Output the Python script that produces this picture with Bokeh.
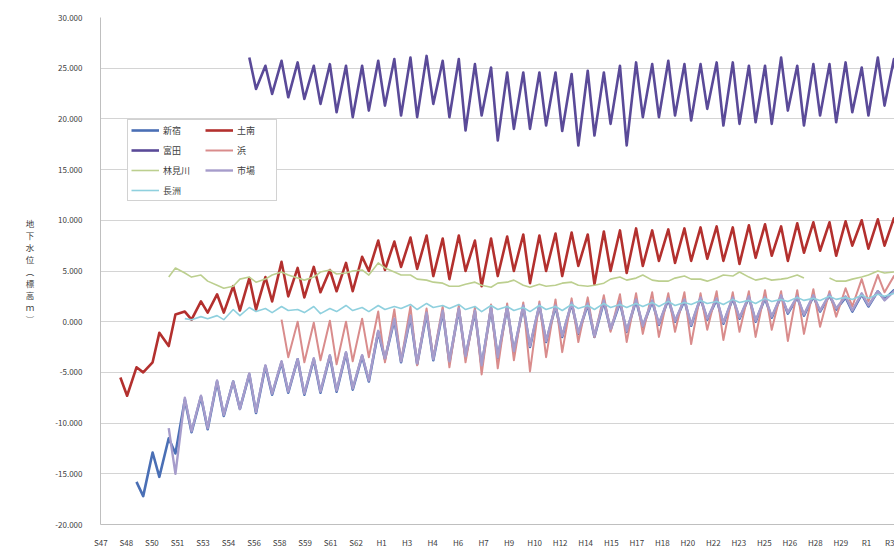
from bokeh.plotting import figure
from bokeh.models import Range1d, FixedTicker, Legend, LegendItem, NumeralTickFormatter
from bokeh.embed import file_html
from bokeh.resources import INLINE

# ---------------- data ----------------
BASE_YEAR = 1972  # S47
tick_labels = ["S47", "S48", "S50", "S51", "S53", "S54", "S56", "S58", "S59", "S61", "S62",
               "H1", "H3", "H4", "H6", "H7", "H9", "H10", "H12", "H14", "H15", "H17", "H18",
               "H20", "H22", "H23", "H25", "H26", "H28", "H29", "R1", "R3"]
tick_every_months = 19
y_title = "地下水位︵標高ｍ︶"

# each series: first year, spring (high-water) values, late-summer (low-water) values, in m
shinjuku_start = 1974
shinjuku_spring = [-15.8, -12.9, -11.5, -7.7, -7.4, -5.9, -5.9, -5.2, -4.4, -4.0, -3.7, -3.7, -3.4, -3.1, -3.4,
                   -1.0, 0.2, 0.5, 0.8, 1.0, 1.2, 1.0, 1.3, 1.4, 1.5, 1.6, 1.5, 1.8, 1.7, 2.0, 1.9, 2.1, 2.0,
                   2.2, 2.1, 2.3, 2.2, 2.3, 2.4, 2.3, 2.5, 2.4, 2.5, 2.6, 2.4, 2.7, 3.0, 3.1]
shinjuku_summer = [-17.2, -15.3, -13.0, -10.9, -10.6, -9.3, -8.6, -9.0, -7.2, -7.0, -7.2, -7.0, -6.9, -6.7, -5.9,
                   -3.7, -4.0, -4.2, -3.8, -4.0, -3.5, -4.4, -3.6, -3.0, -2.5, -2.0, -1.5, -1.2, -1.5, -0.8, -1.0,
                   -0.5, -0.3, 0.0, -0.4, 0.2, -0.2, 0.3, 0.0, 0.4, 0.8, 0.6, 1.0, 1.2, 1.0, 1.5, 2.2, 2.5]

donan_start = 1973
donan_spring = [-5.5, -4.5, -4.0, -2.4, 1.0, 2.0, 2.7, 3.5, 4.3, 4.4, 5.9, 5.3, 5.4, 5.1, 5.8, 6.4, 8.0, 7.9, 8.3,
                8.5, 8.2, 8.5, 8.0, 8.2, 8.4, 8.6, 8.5, 8.7, 8.8, 8.6, 8.9, 9.0, 9.2, 9.0, 9.1, 9.2, 9.3, 9.4,
                9.3, 9.5, 9.6, 9.4, 9.7, 9.8, 9.8, 9.9, 10.0, 10.1, 10.2]
donan_summer = [-7.3, -5.0, -1.1, 0.7, 0.2, 0.9, 0.9, 1.1, 1.2, 2.0, 2.5, 2.4, 2.9, 3.0, 3.0, 5.0, 5.1, 5.4, 5.2,
                4.5, 4.2, 5.0, 3.5, 4.5, 5.0, 3.8, 5.0, 4.5, 5.5, 3.7, 5.0, 4.8, 5.5, 6.0, 5.8, 6.0, 6.2, 6.0,
                5.7, 6.3, 6.5, 6.0, 6.8, 7.0, 6.5, 7.5, 7.2, 7.5, 7.8]

tomita_start = 1981
tomita_spring = [26.05, 25.24, 25.73, 25.57, 25.24, 25.40, 25.24, 25.24, 25.73, 25.90, 26.05, 26.21, 25.73, 25.90,
                 25.40, 25.07, 24.58, 24.58, 24.58, 24.58, 24.42, 24.75, 24.58, 25.24, 25.57, 25.40, 25.73, 25.40,
                 25.40, 25.57, 25.57, 25.24, 25.24, 26.05, 25.24, 25.40, 25.40, 25.57, 25.07, 26.05, 25.90]
tomita_summer = [22.95, 22.46, 22.13, 21.97, 21.48, 20.66, 20.17, 20.82, 21.31, 20.33, 20.17, 21.48, 20.17, 18.86,
                 20.33, 17.87, 19.02, 19.02, 19.35, 18.80, 17.38, 18.36, 19.51, 17.38, 20.17, 20.17, 20.33, 19.84,
                 20.99, 19.35, 19.51, 19.67, 19.51, 20.82, 19.35, 20.33, 19.67, 20.66, 20.33, 21.31, 20.50]

hama_start = 1983
hama_spring = [0.2, 0.0, -0.1, 0.1, 0.0, 0.3, 1.0, 1.2, 1.5, 1.3, 1.5, 1.6, 1.4, 1.7, 1.8, 1.9, 2.0, 2.2, 2.3,
               2.4, 2.6, 2.7, 2.8, 2.9, 2.8, 2.9, 2.8, 3.0, 2.9, 3.0, 3.1, 3.0, 3.1, 3.2, 3.0, 3.3, 4.2, 4.6, 4.5]
hama_summer = [-3.5, -4.0, -3.8, -4.2, -3.9, -3.5, -4.0, -3.9, -4.3, -3.6, -4.5, -4.0, -5.2, -4.6, -3.8, -4.9,
               -3.5, -3.0, -2.0, -1.5, -1.0, -2.0, -1.2, -1.5, -1.0, -2.2, -0.8, -1.8, -1.0, -1.5, -0.8, -1.9,
               -1.2, -0.5, 0.5, 1.5, 2.0, 2.9, 3.0]

rinmigawa_start = 1976
rinmigawa_spring = [4.4, 4.8, 4.6, 3.6, 3.5, 4.4, 4.2, 4.9, 4.3, 4.4, 5.1, 4.8, 5.1, 5.8, 4.9, 4.6, 4.1, 3.8, 3.5,
                    3.9, 3.4, 3.9, 3.6, 3.7, 3.6, 3.9, 3.5, 3.8, 4.4, 4.3, 4.1, 4.0, 4.5, 4.2, 4.3, 4.5, 4.4,
                    4.3, 4.2, 4.6, None, 4.3, 4.0, 4.4, 5.0, 4.9]
rinmigawa_summer = [5.3, 4.4, 4.0, 3.3, 4.2, 3.9, 4.6, 4.6, 4.1, 4.9, 4.7, 5.0, 4.6, 5.3, 4.6, 4.2, 3.9, 3.5, 3.7,
                    3.6, 3.8, 4.1, 3.4, 3.5, 3.8, 3.6, 3.6, 4.2, 4.1, 4.6, 4.0, 4.3, 4.2, 4.0, 4.6, 4.9, 4.1,
                    4.1, 4.3, 4.3, None, 4.0, 4.2, 4.6, 4.8, 4.7]

ichiba_start = 1976
ichiba_spring = [-10.5, -7.5, -7.3, -5.8, -5.9, -5.1, -4.3, -3.9, -3.7, -3.6, -3.3, -3.0, -3.3,
                 -0.9, 0.3, 0.6, 0.9, 1.1, 1.3, 1.1, 1.4, 1.5, 1.6, 1.7, 1.6, 1.9, 1.8, 2.1, 2.0, 2.2, 2.1,
                 2.3, 2.2, 2.4, 2.3, 2.4, 2.5, 2.4, 2.6, 2.5, 2.6, 2.7, 2.5, 2.8, 3.0, 3.0]
ichiba_summer = [-15.0, -10.8, -10.5, -9.2, -8.6, -8.9, -7.1, -6.9, -7.1, -6.9, -6.8, -6.6, -5.8,
                 -3.6, -3.9, -4.1, -3.7, -3.9, -3.4, -4.3, -3.5, -2.9, -2.4, -1.9, -1.4, -1.1, -1.4, -0.7,
                 -0.9, -0.4, -0.2, 0.1, -0.3, 0.3, -0.1, 0.4, 0.1, 0.5, 0.9, 0.7, 1.1, 1.3, 1.1, 1.6, 2.1, 2.4]

nagasu_start = 1977
nagasu_spring = [0.3, 0.5, 0.6, 1.2, 1.4, 1.3, 1.5, 1.2, 1.5, 1.3, 1.6, 1.4, 1.6, 1.5, 1.7, 1.8, 1.6, 1.7, 1.5,
                 1.6, 1.5, 1.4, 1.6, 1.5, 1.7, 1.6, 1.8, 1.7, 1.8, 1.9, 2.0, 1.9, 2.1, 2.0, 2.2, 2.1, 2.3,
                 2.2, 2.4, 2.3, 2.5, 2.4, 2.6, 2.7, 2.8]
nagasu_summer = [0.2, 0.3, 0.2, 0.6, 1.0, 0.9, 1.1, 0.9, 0.8, 1.0, 1.1, 1.0, 1.2, 1.3, 1.2, 1.4, 1.3, 1.2, 1.0,
                 1.2, 1.1, 1.0, 1.2, 1.1, 1.3, 1.2, 1.4, 1.4, 1.5, 1.5, 1.6, 1.7, 1.8, 1.7, 1.9, 1.8, 2.0,
                 2.0, 2.1, 2.1, 2.2, 2.2, 2.3, 2.5, 2.6]

series = [
    ("新宿", shinjuku_start, shinjuku_spring, shinjuku_summer, "#4a6fb5", 2.6),
    ("土南", donan_start, donan_spring, donan_summer, "#b3302e", 2.6),
    ("富田", tomita_start, tomita_spring, tomita_summer, "#5a4a98", 2.6),
    ("浜", hama_start, hama_spring, hama_summer, "#d98c8c", 2.0),
    ("林見川", rinmigawa_start, rinmigawa_spring, rinmigawa_summer, "#bccf8f", 1.6),
    ("市場", ichiba_start, ichiba_spring, ichiba_summer, "#a69ccb", 2.4),
    ("長洲", nagasu_start, nagasu_spring, nagasu_summer, "#8fd0de", 1.6),
]

# ---------------- figure ----------------
PX_PER_MONTH = 1.343
FRAME_W = 794
x_start = -0.3
x_end = x_start + FRAME_W / PX_PER_MONTH

p = figure(width=894, height=550, output_backend="svg", toolbar_location=None,
           x_range=Range1d(x_start, x_end), y_range=Range1d(-20, 30),
           min_border_left=100, min_border_right=0, min_border_top=17, min_border_bottom=24)
p.outline_line_color = None
p.background_fill_color = "white"
p.border_fill_color = "white"

def build(start, spring, summer):
    xs, ys = [], []
    for i, (a, b) in enumerate(zip(spring, summer)):
        m = (start + i - BASE_YEAR) * 12
        xs += [m + 2.5, m + 7.5]
        ys += [float("nan") if a is None else a, float("nan") if b is None else b]
    return xs, ys

renderers = {}
for name, start, spring, summer, color, lw in series:
    xs, ys = build(start, spring, summer)
    r = p.line(xs, ys, line_color=color, line_width=lw, line_join="round")
    renderers[name] = r

# axes
p.xaxis.ticker = FixedTicker(ticks=[i * tick_every_months for i in range(len(tick_labels))])
p.xaxis.major_label_overrides = {i * tick_every_months: lab for i, lab in enumerate(tick_labels)}
p.xaxis.major_tick_line_color = None
p.xaxis.minor_tick_line_color = None
p.xaxis.axis_line_color = "#bfbfbf"
p.xaxis.major_label_standoff = 6
p.xaxis.major_label_text_font = "Noto Sans CJK JP"
p.xaxis.major_label_text_font_size = "8px"
p.xaxis.major_label_text_color = "#404040"

p.yaxis.ticker = FixedTicker(ticks=list(range(-20, 31, 5)))
p.yaxis.formatter = NumeralTickFormatter(format="0.000")
p.yaxis.major_tick_line_color = None
p.yaxis.minor_tick_line_color = None
p.yaxis.axis_line_color = "#bfbfbf"
p.yaxis.major_label_standoff = 12
p.yaxis.major_label_text_font = "Noto Sans CJK JP"
p.yaxis.major_label_text_font_size = "8px"
p.yaxis.major_label_text_color = "#404040"

# vertical y-axis title with upright stacked characters
p.yaxis.axis_label = "\n".join(y_title)
p.yaxis.axis_label_orientation = "horizontal"
p.yaxis.axis_label_standoff = 18
p.yaxis.axis_label_text_font = "Noto Sans CJK JP"
p.yaxis.axis_label_text_font_size = "8.5px"
p.yaxis.axis_label_text_font_style = "normal"
p.yaxis.axis_label_text_color = "#404040"
p.yaxis.axis_label_text_line_height = 1.0

p.xgrid.grid_line_color = None
p.ygrid.grid_line_color = "#d4d4d4"
p.ygrid.grid_line_width = 1

# legend (two columns, column-first order gives Excel's row-wise layout)
order = ["新宿", "富田", "林見川", "長洲", "土南", "浜", "市場"]
items = [LegendItem(label=n, renderers=[renderers[n]]) for n in order]
legend = Legend(items=items, ncols=2, location=(27, 323),
                glyph_width=28, glyph_height=14, spacing=6, label_width=36,
                label_standoff=4, padding=3, margin=0,
                label_text_font="Noto Sans CJK JP", label_text_font_size="9px",
                label_text_color="#404040",
                border_line_color="#a6a6a6", border_line_width=1,
                background_fill_color="white", background_fill_alpha=1.0)
p.add_layout(legend, "center")

open("out.html", "w").write(file_html(p, INLINE))
